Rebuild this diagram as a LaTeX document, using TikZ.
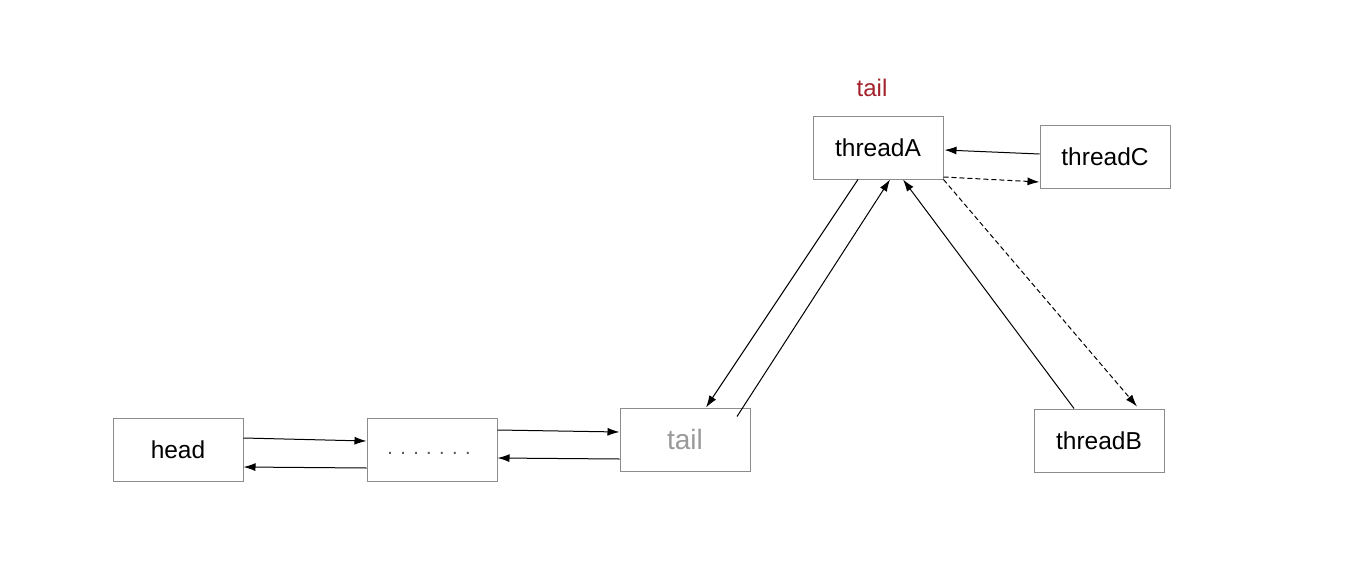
\documentclass[tikz,border=0pt]{standalone}
\usepackage{fontspec}
\setmainfont{Liberation Sans}
\usetikzlibrary{arrows.meta,calc}
\definecolor{boxgray}{HTML}{8C8C8C}
\definecolor{tailgray}{HTML}{9A9A9A}
\definecolor{tailred}{HTML}{A3222B}
\definecolor{dotgray}{HTML}{555555}
\tikzset{
  nodebox/.style={draw=boxgray, line width=1pt, rectangle, minimum width=130pt, minimum height=63pt, inner sep=0pt, font=\fontsize{24.5}{28}\selectfont},
  conn/.style={line width=1pt, -{Latex[length=12pt,width=8pt]}},
  dconn/.style={conn, dash pattern=on 5pt off 3pt},
}
\begin{document}
\begin{tikzpicture}[x=1pt,y=-1pt]
\useasboundingbox[fill=white] (0,0) rectangle (1348,562);
\node[nodebox] (head) at (178,449.5) {head};
\node[nodebox] (dots) at (432,449.5) {};
\node[font=\fontsize{20}{24}\selectfont, text=dotgray, inner sep=0pt] (dotstext) at (429,453) {. . . . . . .};
\node[nodebox, text=tailgray, font=\fontsize{28}{32}\selectfont] (tail) at (685,439.5) {tail};
\node[nodebox] (A) at (878,147.5) {threadA};
\node[nodebox] (C) at (1105,156.5) {threadC};
\node[nodebox] (B) at (1099,440.5) {threadB};
\node[text=tailred, font=\fontsize{24}{28}\selectfont, inner sep=0pt] (taillabel) at (872,88) {tail};

\draw[conn] ($(head.east)+(0,-11.5)$) -- ($(dots.west)+(0,-8.5)$);
\draw[conn] ($(dots.west)+(0,18.5)$) -- ($(head.east)+(0,17.5)$);
\draw[conn] ($(dots.east)+(0,-19.5)$) -- ($(tail.west)+(0,-7.5)$);
\draw[conn] ($(tail.west)+(0,19.5)$) -- ($(dots.east)+(0,8.5)$);
\draw[conn] ($(A.south)+(-20,0)$) -- ($(tail.north)+(21,0)$);
\draw[conn] ($(tail.north)+(52,9)$) -- ($(A.south)+(12,0)$);
\draw[conn] ($(B.north)+(-25,0)$) -- ($(A.south)+(25,0)$);
\draw[dconn] (A.south east) -- ($(B.north)+(38,-2)$);
\draw[conn] ($(C.west)+(0,-2.5)$) -- ($(A.east)+(1,2.5)$);
\draw[dconn] ($(A.east)+(0,29.5)$) -- ($(C.west)+(0,25.5)$);
\end{tikzpicture}
\end{document}
